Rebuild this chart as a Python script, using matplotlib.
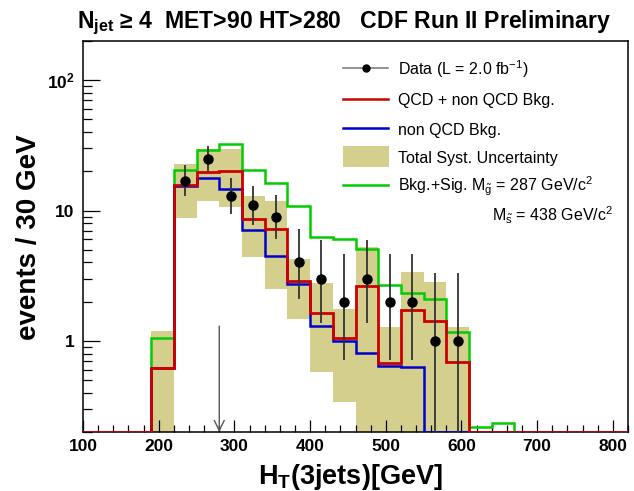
import numpy as np
import matplotlib
matplotlib.use('Agg')
import matplotlib.pyplot as plt
from matplotlib.lines import Line2D
from matplotlib.patches import Rectangle
from matplotlib.ticker import MultipleLocator, LogLocator, FixedLocator, FixedFormatter, NullFormatter

plt.rcParams['font.family'] = ['Liberation Sans', 'DejaVu Sans']
plt.rcParams['mathtext.fontset'] = 'custom'
plt.rcParams['mathtext.rm'] = 'Liberation Sans'
plt.rcParams['mathtext.it'] = 'Liberation Sans:italic'
plt.rcParams['mathtext.bf'] = 'Liberation Sans:bold'

# 30 GeV bins from 100 to 820
edges = np.arange(100, 821, 30)

# QCD + non QCD bkg (red)
qcd_total = [0, 0, 0, 0.62, 15.6, 19.7, 20.0, 8.6, 7.2, 2.9, 1.65, 1.06,
             2.65, 0.68, 1.72, 1.43, 0.69, 0, 0, 0, 0, 0, 0, 0]
# non QCD bkg (blue)
non_qcd = [0, 0, 0, 0.62, 15.3, 17.8, 14.7, 7.1, 4.5, 2.75, 1.31, 0.99,
           0.81, 0.64, 0.63, 0, 0, 0, 0, 0, 0, 0, 0, 0]
# bkg + signal (green)
bkg_sig = [0, 0, 0, 1.05, 20.3, 29.4, 32.6, 20.6, 16.3, 10.9, 6.25, 6.07,
           5.1, 2.7, 2.34, 2.1, 1.18, 0.22, 0.235, 0, 0, 0, 0, 0]
# total syst. uncertainty band (0 = no band / below axis)
syst_hi = [0, 0, 0, 1.19, 22.9, 29.6, 29.8, 13.0, 11.9, 4.25, 2.78, 1.77,
           5.3, 1.27, 3.35, 2.81, 1.27, 0, 0, 0, 0, 0, 0, 0]
syst_lo = [0, 0, 0, 0, 8.8, 11.8, 10.7, 4.4, 2.5, 1.48, 0.58, 0.34,
           0, 0, 0, 0, 0, 0, 0, 0, 0, 0, 0, 0]

# data points
data_x = [235, 265, 295, 325, 355, 385, 415, 445, 475, 505, 535, 565, 595]
data_y = [17, 25, 13, 11, 9, 4, 3, 2, 3, 2, 2, 1, 1]
data_lo = [12.93, 20.04, 9.45, 7.74, 6.06, 2.09, 1.37, 0.71, 1.37, 0.71, 0.71, 0.17, 0.17]
data_hi = [22.2, 31.06, 17.69, 15.41, 13.10, 7.16, 5.92, 4.64, 5.92, 4.64, 4.64, 3.30, 3.30]

cut_x = 280
cut_top = 1.3

ymin, ymax = 0.2, 200
khaki = '#d5cf8d'
red = '#cc0000'
blue = '#0000cc'
green = '#00cc00'

W, H = 634, 491
fig = plt.figure(figsize=(W / 100, H / 100), dpi=100)
ax = fig.add_axes([83 / W, 1 - 432 / H, (628 - 83) / W, (432 - 41) / H])

def fx(p):
    return p / W

def fy(p):
    return 1 - p / H

centers = (edges[:-1] + edges[1:]) / 2
hi = np.array(syst_hi)
lo = np.maximum(np.array(syst_lo), 0.1)
m = hi > 0
ax.bar(centers[m], hi[m] - lo[m], bottom=lo[m], width=30, color=khaki, lw=0, zorder=1)

ax.stairs(np.maximum(bkg_sig, ymin), edges, baseline=None, color=green, lw=1.8, zorder=3)
ax.stairs(np.maximum(non_qcd, ymin), edges, baseline=None, color=blue, lw=1.8, zorder=3.1)
ax.stairs(np.maximum(qcd_total, ymin), edges, baseline=None, color=red, lw=2.0, zorder=3.2)

dy = np.array(data_y, dtype=float)
yerr = [dy - np.array(data_lo), np.array(data_hi) - dy]
ax.errorbar(data_x, dy, yerr=yerr, fmt='o', color='black', ms=6.5,
            ecolor='#333333', elinewidth=1.3, capsize=0, zorder=5)

ax.annotate('', xy=(cut_x, ymin), xytext=(cut_x, cut_top),
            arrowprops=dict(arrowstyle='->', color='#555555', lw=1.0,
                            mutation_scale=18, shrinkA=0, shrinkB=0), zorder=4)

ax.set_yscale('log')
ax.set_xlim(100, 820)
ax.set_ylim(ymin, ymax)

ax.xaxis.set_major_locator(MultipleLocator(100))
ax.xaxis.set_minor_locator(MultipleLocator(20))
ax.yaxis.set_major_locator(FixedLocator([1, 10, 100]))
ax.yaxis.set_major_formatter(FixedFormatter(['1', '10', r'10$^{\mathbf{2}}$']))
ax.yaxis.set_minor_locator(LogLocator(subs=np.arange(2, 10)))
ax.yaxis.set_minor_formatter(NullFormatter())

ax.tick_params(axis='x', which='major', direction='in', length=8.5, width=0.9,
               labelsize=12.5, pad=5, top=False)
ax.tick_params(axis='x', which='minor', direction='in', length=4.8, width=0.9, top=False)
ax.tick_params(axis='y', which='major', direction='in', length=12, width=0.9,
               labelsize=12.5, pad=6, right=False)
ax.tick_params(axis='y', which='minor', direction='in', length=6.5, width=0.9, right=False)
for lab in ax.get_xticklabels() + ax.get_yticklabels():
    lab.set_fontweight('bold')
for s in ax.spines.values():
    s.set_linewidth(1.1)

# axis titles and header
fig.text(fx(350), fy(484), r'H$_{\mathbf{T}}$(3jets)[GeV]', ha='center', va='baseline',
         fontsize=19.5, fontweight='bold')
fig.text(fx(29), fy(237), 'events / 30 GeV', rotation=90, ha='center', va='center',
         fontsize=20, fontweight='bold')
fig.text(fx(77), fy(28), r'N$_{\mathbf{jet}}$ ≥ 4  MET>90 HT>280   CDF Run II Preliminary',
         ha='left', va='baseline', fontsize=16.6, fontweight='bold')

# legend, drawn by hand like ROOT's TLegend
fig.add_artist(Line2D([fx(343), fx(388)], [fy(68.3)] * 2, color='gray', lw=1.2))
fig.add_artist(Line2D([fx(366)], [fy(68.3)], marker='o', color='black', ms=5))
fig.add_artist(Line2D([fx(343), fx(388)], [fy(99.3)] * 2, color=red, lw=1.8))
fig.add_artist(Line2D([fx(343), fx(388)], [fy(128.3)] * 2, color=blue, lw=1.8))
fig.add_artist(Rectangle((fx(343), fy(167)), fx(389) - fx(343), fy(146) - fy(167),
                         transform=fig.transFigure, color=khaki, lw=0))
fig.add_artist(Line2D([fx(343), fx(388)], [fy(185)] * 2, color=green, lw=1.8))

leg_txt = ['Data (L = 2.0 fb$^{-1}$)', 'QCD + non QCD Bkg.', 'non QCD Bkg.',
           'Total Syst. Uncertainty', r'Bkg.+Sig. M$_{\mathrm{\tilde{g}}}$ = 287 GeV/c$^{2}$']
leg_base = [75, 105.5, 134.8, 163.3, 191.7]
for t, b in zip(leg_txt, leg_base):
    fig.text(fx(398), fy(b), t, ha='left', va='baseline', fontsize=11.5)
fig.text(fx(613), fy(221.7), r'M$_{\mathrm{\tilde{s}}}$ = 438 GeV/c$^{2}$',
         ha='right', va='baseline', fontsize=11.5)

fig.savefig('out.png', dpi=100)
